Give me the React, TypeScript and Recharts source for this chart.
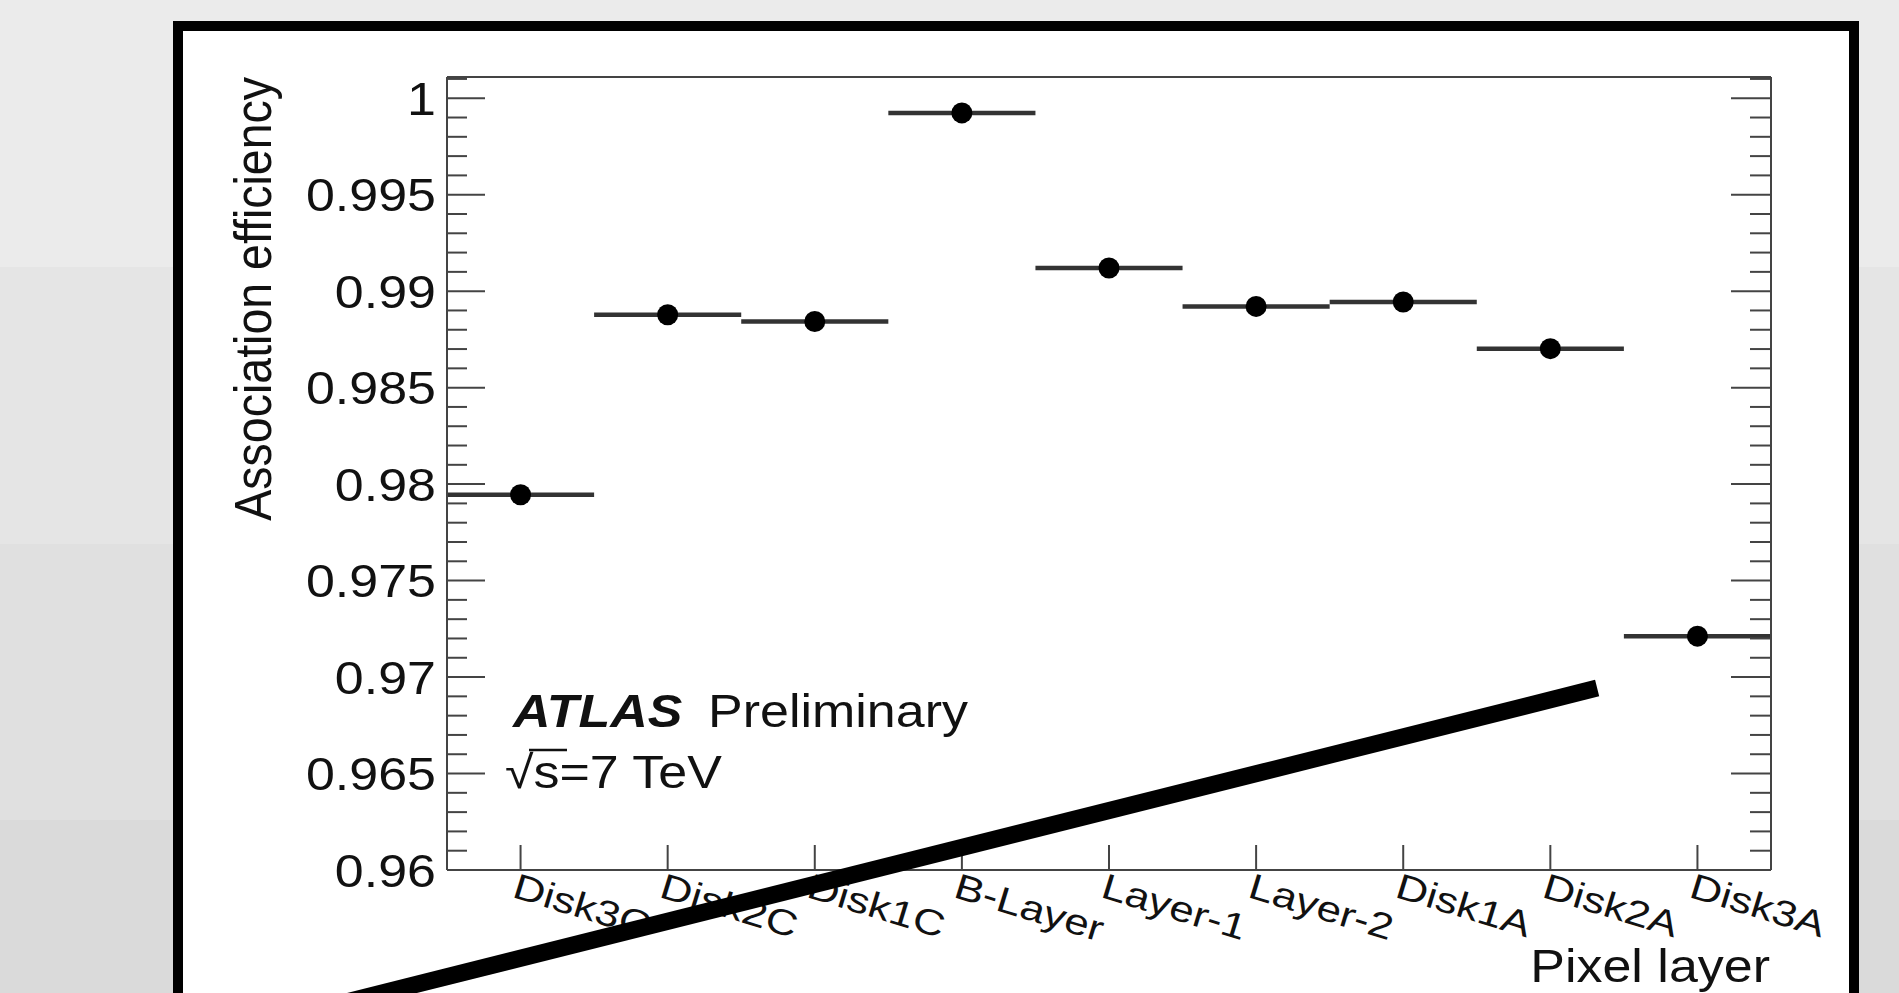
import React from 'react';
import {
  ScatterChart,
  Scatter,
  XAxis,
  YAxis,
  ErrorBar,
  ReferenceLine,
} from 'recharts';

// pixel layers, one bin each
const layers = ['Disk3C', 'Disk2C', 'Disk1C', 'B-Layer', 'Layer-1', 'Layer-2', 'Disk1A', 'Disk2A', 'Disk3A'];
const efficiency = [0.97945, 0.98878, 0.98843, 0.99924, 0.9912, 0.98921, 0.98944, 0.98702, 0.97212];
const binHalfWidth = 0.5;

const yMajorTicks = [0.96, 0.965, 0.97, 0.975, 0.98, 0.985, 0.99, 0.995, 1];
const yDomain = [0.96, 1.0011];
const xDomain = [0, 9];

// hand drawn stroke across the figure (data coordinates)
const strokeSegment = [
  { x: -0.727, y: 0.95308 },
  { x: 7.818, y: 0.96943 },
];

// minor ticks every 0.001
const yTicks: number[] = [];
for (let i = 0; i <= 41; i++) yTicks.push(Math.round((0.96 + i * 0.001) * 1000) / 1000);
const xTicks = layers.map((_, i) => i + 0.5);

const data = layers.map((name, i) => ({ name, x: i + 0.5, y: efficiency[i], xErr: binHalfWidth }));

const FONT = '"Liberation Sans", Arial, Helvetica, sans-serif';
const AXIS = '#444';
const SX = 1.13;

const isMajor = (v: number) => yMajorTicks.some(m => Math.abs(m - v) < 1e-6);
const fmt = (v: number) => String(Number(v.toFixed(3)));

const LeftTick = ({ x, y, payload }: any) => {
  const v = payload.value;
  const major = isMajor(v);
  return (
    <g>
      <line x1={x} x2={x + (major ? 38 : 20)} y1={y} y2={y} stroke={AXIS} strokeWidth={2} />
      {major && (
        <text
          transform={`translate(${x - 11},${y}) scale(${SX},1)`}
          textAnchor="end"
          dy="0.36em"
          fontSize={46}
          fontFamily={FONT}
          fill="#111"
        >
          {fmt(v)}
        </text>
      )}
    </g>
  );
};

const RightTick = ({ x, y, payload }: any) => {
  const major = isMajor(payload.value);
  return <line x1={x} x2={x - (major ? 40 : 21)} y1={y} y2={y} stroke={AXIS} strokeWidth={2} />;
};

const BottomTick = ({ x, y, payload }: any) => {
  const name = layers[Math.floor(payload.value)];
  return (
    <g>
      <line x1={x} x2={x} y1={y} y2={y - 25} stroke={AXIS} strokeWidth={2} />
      <text
        transform={`translate(${x - 2},${y + 2}) rotate(17) scale(1.22,1)`}
        dy="0.72em"
        fontSize={36}
        fontFamily={FONT}
        fill="#111"
      >
        {name}
      </text>
    </g>
  );
};

const TopTick = ({ x, y }: any) => (
  <line x1={x} x2={x} y1={y} y2={y + 23} stroke={AXIS} strokeWidth={2} />
);

const Dot = ({ cx, cy }: any) => <circle cx={cx} cy={cy} r={10.5} fill="#000" />;

export default function App() {
  return (
    <div
      style={{
        position: 'fixed',
        left: 0,
        top: 0,
        width: 1899,
        height: 993,
        overflow: 'hidden',
        background:
          'linear-gradient(to bottom, #ebebeb 0px, #ebebeb 267px, #e5e5e5 267px, #e5e5e5 544px, #e0e0e0 544px, #e0e0e0 820px, #dadada 820px)',
      }}
    >
      <div
        style={{
          position: 'absolute',
          left: 173,
          top: 21,
          width: 1686,
          height: 1100,
          boxSizing: 'border-box',
          border: '10px solid #000',
          background: '#fff',
        }}
      />
      <div style={{ position: 'absolute', left: 0, top: 0 }}>
        <ScatterChart
          width={1899}
          height={993}
          margin={{ top: 76, right: 127, bottom: 122, left: 446 }}
        >
          <XAxis
            type="number"
            dataKey="x"
            domain={xDomain}
            ticks={xTicks}
            interval={0}
            allowDataOverflow
            height={1}
            tickSize={0}
            tickMargin={0}
            tickLine={false}
            tick={<BottomTick />}
            axisLine={{ stroke: AXIS, strokeWidth: 2 }}
          />
          <XAxis
            xAxisId="top"
            orientation="top"
            type="number"
            domain={xDomain}
            ticks={xTicks}
            interval={0}
            allowDataOverflow
            height={1}
            tickSize={0}
            tickMargin={0}
            tickLine={false}
            tick={<TopTick />}
            axisLine={{ stroke: AXIS, strokeWidth: 2 }}
          />
          <YAxis
            type="number"
            dataKey="y"
            domain={yDomain}
            ticks={yTicks}
            interval={0}
            allowDataOverflow
            width={1}
            tickSize={0}
            tickMargin={0}
            tickLine={false}
            tick={<LeftTick />}
            axisLine={{ stroke: AXIS, strokeWidth: 2 }}
          />
          <YAxis
            yAxisId="right"
            orientation="right"
            type="number"
            domain={yDomain}
            ticks={yTicks}
            interval={0}
            allowDataOverflow
            width={1}
            tickSize={0}
            tickMargin={0}
            tickLine={false}
            tick={<RightTick />}
            axisLine={{ stroke: AXIS, strokeWidth: 2 }}
          />
          <Scatter data={data} dataKey="y" shape={<Dot />} isAnimationActive={false}>
            <ErrorBar dataKey="xErr" direction="x" width={0} stroke="#333" strokeWidth={4.5} isAnimationActive={false} />
          </Scatter>
          <ReferenceLine
            segment={strokeSegment}
            ifOverflow="visible"
            stroke="#000"
            strokeWidth={17}
            zIndex={2000}
          />
        </ScatterChart>
      </div>
      <svg
        width={1899}
        height={993}
        style={{ position: 'absolute', left: 0, top: 0, pointerEvents: 'none' }}
      >
        <g fontFamily={FONT} fill="#111">
          <text transform={`translate(271,77) scale(${SX},1) rotate(-90)`} textAnchor="end" fontSize={46.5}>
            Association efficiency
          </text>
          <text transform={`translate(513,727) scale(${SX},1)`} fontSize={46} fontWeight="bold" fontStyle="italic">
            ATLAS
          </text>
          <text transform={`translate(708,727) scale(${SX},1)`} fontSize={46}>
            Preliminary
          </text>
          <text transform={`translate(505,788) scale(${SX},1)`} fontSize={46}>
            √s=7 TeV
          </text>
          <line x1={529} x2={567} y1={750} y2={750} stroke="#111" strokeWidth={2.5} />
          <text transform={`translate(1770,982) scale(${SX},1)`} textAnchor="end" fontSize={46}>
            Pixel layer
          </text>
        </g>
      </svg>
    </div>
  );
}
